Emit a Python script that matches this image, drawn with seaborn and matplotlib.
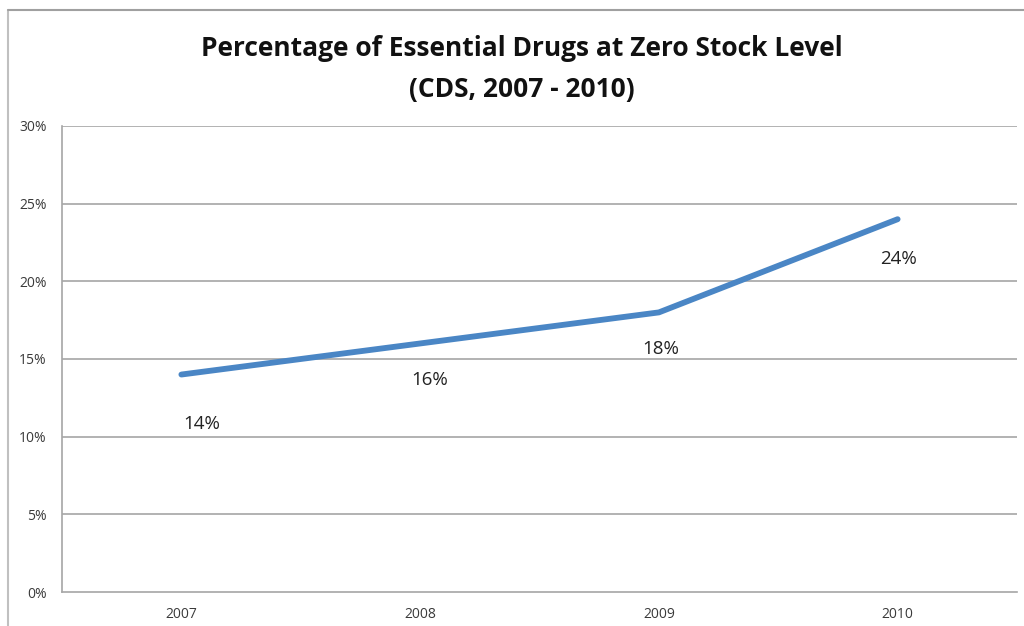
import matplotlib
matplotlib.use("Agg")
import matplotlib.pyplot as plt
import seaborn as sns
import pandas as pd
from matplotlib.lines import Line2D

years = ["2007", "2008", "2009", "2010"]
values = [14, 16, 18, 24]
labels = ["14%", "16%", "18%", "24%"]
yticks = [0, 5, 10, 15, 20, 25, 30]
ytick_labels = ["0%", "5%", "10%", "15%", "20%", "25%", "30%"]
title = "Percentage of Essential Drugs at Zero Stock Level\n(CDS, 2007 - 2010)"

sns.set_theme(style="white")
plt.rcParams['font.family'] = ['Open Sans', 'DejaVu Sans']

df = pd.DataFrame({"x": range(len(years)), "v": values})

fig = plt.figure(figsize=(10.24, 6.26), dpi=100)
ax = fig.add_axes([62/1024, 1-592/626, (1017-62)/1024, (592-126)/626])

for y in yticks[1:]:
    ax.axhline(y, color="#a6a6a6", lw=1.2, zorder=1)

sns.lineplot(data=df, x="x", y="v", ax=ax, color="#4a86c5", lw=4.2,
             solid_capstyle="round", zorder=3)

# data label offsets (points) as in reference
offs = [(14.5, -35.5), (7, -26.5), (1.5, -26), (0.7, -28.5)]
for i, (v, lab) in enumerate(zip(values, labels)):
    ax.annotate(lab, (i, v), xytext=offs[i], textcoords="offset points",
                ha="center", va="center", fontsize=13.5, color="#222222")

ax.set_xlim(-0.5, len(years) - 0.5)
ax.set_ylim(0, 30)
ax.set_xticks(range(len(years)))
ax.set_xticklabels(years, fontsize=10, color="#3a3a3a")
ax.set_xticks([i - 0.5 for i in range(len(years) + 1)], minor=True)
ax.set_yticks(yticks)
ax.set_yticklabels(ytick_labels, fontsize=10, color="#3a3a3a")
ax.tick_params(axis="x", which="major", length=0, pad=11)
ax.tick_params(axis="x", which="minor", length=3, color="#a6a6a6", width=1.2, direction="out")
ax.tick_params(axis="y", length=5, color="#a6a6a6", width=1.2, direction="out", pad=6)
ax.set_xlabel("")
ax.set_ylabel("")
for s in ["top", "right"]:
    ax.spines[s].set_visible(False)
for s in ["left", "bottom"]:
    ax.spines[s].set_color("#a6a6a6")
    ax.spines[s].set_linewidth(1.2)

fig.text(522/1024, 1-69/626, title, ha="center", va="center", fontsize=19,
         fontweight="bold", color="#111111", linespacing=1.62)

# outer chart frame
fig.add_artist(Line2D([8/1024, 8/1024], [0, 1-10/626], transform=fig.transFigure,
                      color="#c0c0c0", lw=1.5))
fig.add_artist(Line2D([8/1024, 1], [1-10/626, 1-10/626], transform=fig.transFigure,
                      color="#a0a0a0", lw=1.5))

fig.savefig("out.png", dpi=100)
